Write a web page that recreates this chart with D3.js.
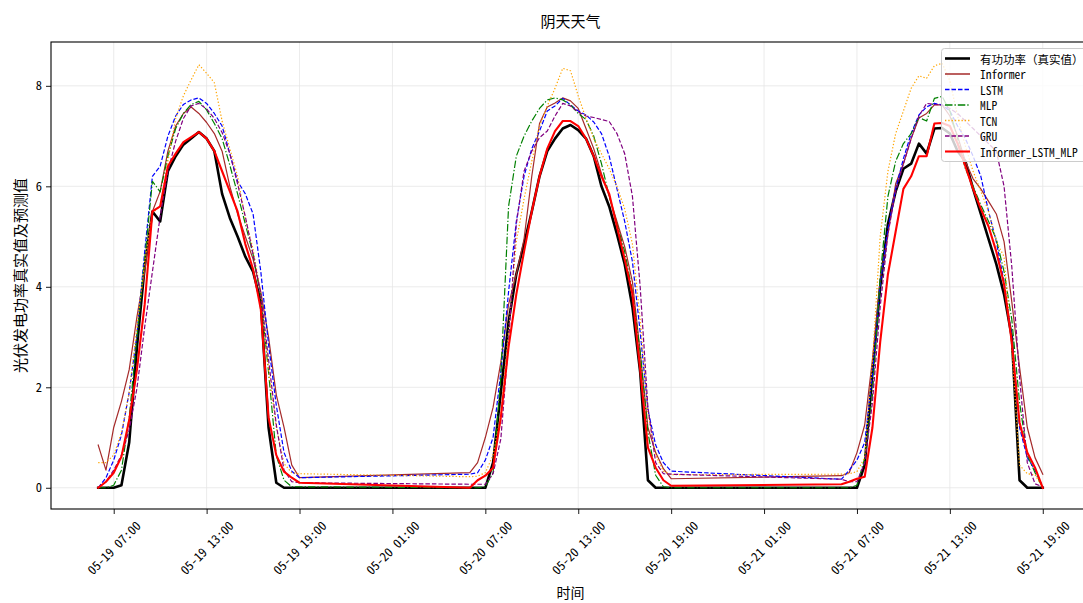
<!DOCTYPE html>
<html><head><meta charset="utf-8">
<script src="https://cdn.jsdelivr.net/npm/d3@7/dist/d3.min.js"></script>
<style>
html,body{margin:0;padding:0;background:#fff;}
svg{display:block;font-family:"Noto Sans Mono CJK SC","Noto Sans CJK SC",sans-serif;}
</style></head>
<body><svg id="chart" width="1083" height="603"></svg>
<script>
// ---------- data ----------
const days = ["2024-05-19", "2024-05-20", "2024-05-21"];
const slotStart = "06:00", slotMinutes = 30, slotsPerDay = 27; // 06:00 .. 19:00
const xTickLabels = ["2024-05-19 07:00","2024-05-19 13:00","2024-05-19 19:00","2024-05-20 01:00",
  "2024-05-20 07:00","2024-05-20 13:00","2024-05-20 19:00","2024-05-21 01:00",
  "2024-05-21 07:00","2024-05-21 13:00","2024-05-21 19:00"];
const yTicks = [0, 2, 4, 6, 8];
const seriesNames = ["有功功率（真实值）","Informer","LSTM","MLP","TCN","GRU","Informer_LSTM_MLP"];

const truth = [
 0,0,0,0.05,0.9,2.8,4.4,5.5,5.3,6.3,6.6,6.83,6.95,7.08,6.95,6.7,5.85,5.37,5.0,4.6,4.3,3.7,1.2,0.1,0,0,0,
 0,0,0,0.5,1.9,3.3,4.25,4.85,5.5,6.2,6.7,6.95,7.15,7.22,7.12,6.95,6.6,6.0,5.6,5.05,4.45,3.6,2.3,0.15,0,0,0,
 0,0,0,0.45,2.3,4.0,5.25,5.9,6.35,6.45,6.85,6.65,7.15,7.16,7.05,6.7,6.5,5.95,5.45,4.95,4.45,3.85,3.0,0.15,0,0,0];
const informer = [
 0.85,0.35,1.2,1.72,2.35,3.4,4.3,5.5,5.9,6.7,7.2,7.45,7.58,7.45,7.27,7.05,6.7,6.0,5.45,5.0,4.55,3.9,3.0,1.85,1.2,0.45,0.2,
 0.3,0.5,1.0,1.6,2.5,3.65,4.25,4.95,6.2,7.25,7.58,7.66,7.76,7.7,7.55,7.15,6.75,6.25,5.8,5.3,4.8,4.1,2.7,1.2,0.7,0.38,0.18,
 0.24,0.3,0.7,1.25,2.55,4.15,5.05,6.05,6.45,6.95,7.36,7.45,7.62,7.62,7.4,7.0,6.5,6.15,5.95,5.7,5.45,4.9,3.7,2.4,1.2,0.6,0.27];
const lstm = [
 0,0.2,0.55,1.05,1.9,3.05,4.7,6.2,6.4,7.0,7.4,7.63,7.72,7.76,7.65,7.45,7.2,6.65,6.1,5.85,5.45,4.3,2.85,1.64,0.7,0.33,0.2,
 0.27,0.3,0.55,1.0,2.3,3.9,5.3,6.2,6.75,7.1,7.5,7.6,7.75,7.62,7.5,7.42,7.28,7.05,6.6,5.95,5.3,4.5,3.1,1.55,0.85,0.5,0.33,
 0.17,0.35,0.55,0.9,2.25,4.05,5.15,5.95,6.55,7.05,7.42,7.58,7.65,7.62,7.5,7.2,6.95,6.6,6.2,5.5,4.9,4.1,3.0,1.2,0.6,0.35,0.02];
const mlp = [
 0,0,0.05,0.35,1.4,3.0,4.55,6.1,5.89,6.6,7.15,7.45,7.63,7.69,7.52,7.25,6.95,6.42,5.85,5.25,4.65,3.8,2.3,0.64,0.15,0.02,0.02,
 0,0,0.02,0.3,2.2,5.6,6.6,7.0,7.3,7.55,7.72,7.76,7.72,7.62,7.45,7.33,7.0,6.45,5.8,5.25,4.7,3.9,2.7,1.1,0.25,0.02,0,
 0,0,0.05,0.58,1.85,4.2,5.8,6.5,6.85,7.05,7.37,7.3,7.75,7.79,7.5,6.95,6.35,6.0,5.63,5.3,4.95,4.3,3.35,1.7,0.65,0.3,0];
const tcn = [
 0.5,0.5,0.65,1.1,1.9,3.2,4.5,5.47,5.6,6.5,7.35,7.8,8.12,8.42,8.25,8.06,7.3,6.75,6.2,5.35,4.75,3.85,2.35,1.2,0.48,0.3,0.28,
 0.22,0.23,0.3,0.65,1.45,3.1,4.9,5.75,6.5,7.2,7.6,7.95,8.35,8.3,7.8,7.35,6.95,6.65,6.35,6.0,5.55,4.85,3.35,1.5,0.65,0.33,0.26,
 0.27,0.28,0.32,0.6,2.5,5.0,6.3,7.05,7.5,7.95,8.2,8.15,8.4,8.45,8.1,7.4,6.8,6.3,5.9,5.5,4.9,4.6,2.8,0.45,0.28,0.26,0];
const gru = [
 0,0.12,0.35,0.65,1.15,1.98,3.2,4.3,5.4,6.3,6.9,7.35,7.6,7.65,7.54,7.35,7.07,6.65,6.05,5.4,4.65,3.85,2.55,1.25,0.35,0.12,0.1,
 0.07,0.07,0.07,0.28,0.97,2.9,5.25,6.3,6.7,6.97,7.1,7.4,7.65,7.6,7.48,7.4,7.37,7.33,7.29,7.05,6.65,5.8,4.0,1.6,0.5,0.28,0.27,
 0.17,0.12,0.12,0.5,1.7,3.6,5.05,5.9,6.45,6.95,7.4,7.65,7.63,7.62,7.55,7.45,7.3,7.15,7.0,6.85,6.7,6.0,4.4,2.2,0.5,0.08,0.02];
const hybrid = [
 0,0.12,0.3,0.62,1.35,2.35,3.65,5.5,5.6,6.4,6.65,6.88,6.98,7.08,6.95,6.7,6.3,5.9,5.5,4.85,4.35,3.55,1.4,0.65,0.32,0.2,0.1,
 0,0.15,0.24,0.4,1.4,2.8,3.85,4.7,5.5,6.2,6.75,7.1,7.3,7.3,7.2,6.95,6.6,6.2,5.85,5.2,4.55,3.85,2.35,0.8,0.4,0.15,0.04,
 0.07,0.12,0.18,0.22,1.2,2.9,4.25,5.1,5.95,6.2,6.6,6.6,7.25,7.26,7.2,6.85,6.4,5.95,5.55,5.2,4.7,4.05,2.9,1.3,0.7,0.4,0];

// ---------- build ----------
const parse = d3.timeParse("%Y-%m-%d %H:%M");
const times = days.flatMap(d => d3.range(slotsPerDay).map(i =>
  d3.timeMinute.offset(parse(d + " " + slotStart), i * slotMinutes)));
const xTicks = xTickLabels.map(parse);

const series = [
  {name: seriesNames[0], values: truth,    color: "#000000", width: 2.6, dash: null},
  {name: seriesNames[1], values: informer, color: "#a52a2a", width: 1.2, dash: null},
  {name: seriesNames[2], values: lstm,     color: "#0000ff", width: 1.2, dash: "4.5,2"},
  {name: seriesNames[3], values: mlp,      color: "#008000", width: 1.2, dash: "7.5,2,1.3,2"},
  {name: seriesNames[4], values: tcn,      color: "#ffa500", width: 1.2, dash: "1.3,2"},
  {name: seriesNames[5], values: gru,      color: "#800080", width: 1.2, dash: "4.5,2"},
  {name: seriesNames[6], values: hybrid,   color: "#ff0000", width: 2.1, dash: null}
];

const svg = d3.select("#chart");
const L = 51, R = 1090, T = 42, B = 509;

const [t0, t1] = d3.extent(times);
const tpad = (t1 - t0) * 0.05;
const x = d3.scaleTime().domain([new Date(+t0 - tpad), new Date(+t1 + tpad)]).range([L, R]);
const ymax = d3.max(series, s => d3.max(s.values)), ymin = d3.min(series, s => d3.min(s.values));
const ypad = (ymax - ymin) * 0.05;
const y = d3.scaleLinear().domain([ymin - ypad, ymax + ypad]).range([B, T]);

// grid
const grid = svg.append("g");
grid.selectAll(".gx").data(xTicks).join("line")
  .attr("x1", d => x(d)).attr("x2", d => x(d)).attr("y1", T).attr("y2", B)
  .attr("stroke", "#e6e6e6").attr("stroke-width", 0.8);
grid.selectAll(".gy").data(yTicks).join("line")
  .attr("x1", L).attr("x2", R).attr("y1", d => y(d)).attr("y2", d => y(d))
  .attr("stroke", "#e6e6e6").attr("stroke-width", 0.8);

// lines
svg.append("clipPath").attr("id", "clip").append("rect")
  .attr("x", L).attr("y", T).attr("width", R - L).attr("height", B - T);
const line = d3.line().x((d, i) => x(times[i])).y(d => y(d));
const lg = svg.append("g").attr("clip-path", "url(#clip)");
series.forEach(s => {
  lg.append("path").datum(s.values).attr("d", line)
    .attr("fill", "none").attr("stroke", s.color).attr("stroke-width", s.width)
    .attr("stroke-linejoin", "round").attr("stroke-linecap", s.dash ? "butt" : "square")
    .attr("stroke-dasharray", s.dash);
});

// axes
const xAxis = svg.append("g").attr("transform", `translate(0,${B})`)
  .call(d3.axisBottom(x).tickValues(xTicks).tickFormat(d3.timeFormat("%m-%d %H:%M")).tickSize(5));
xAxis.select(".domain").remove();
xAxis.selectAll("text").attr("y", 0).attr("dy", "0.35em")
  .attr("transform", "translate(0,39) rotate(-45)").style("text-anchor", "middle")
  .attr("font-size", 12.5).attr("fill", "#000");
const yAxis = svg.append("g").attr("transform", `translate(${L},0)`)
  .call(d3.axisLeft(y).tickValues(yTicks).tickSize(5).tickPadding(4));
yAxis.select(".domain").remove();
yAxis.selectAll("text").attr("font-size", 12.5).attr("fill", "#000");
svg.selectAll(".tick line").attr("stroke", "#000").attr("stroke-width", 0.9);
[xAxis, yAxis].forEach(a => a.attr("font-family", null).attr("font-size", null));

// frame
svg.append("rect").attr("x", L).attr("y", T).attr("width", R - L).attr("height", B - T)
  .attr("fill", "none").attr("stroke", "#000").attr("stroke-width", 1.1);

// texts
svg.append("text").attr("x", (L + R) / 2).attr("y", 20).attr("text-anchor", "middle")
  .attr("dominant-baseline", "central").attr("font-size", 15).text("阴天天气");
svg.append("text").attr("transform", `translate(19,${(T + B) / 2}) rotate(-90)`)
  .attr("text-anchor", "middle").attr("dominant-baseline", "central").attr("font-size", 15)
  .text("光伏发电功率真实值及预测值");
svg.append("text").attr("x", (L + R) / 2).attr("y", 592).attr("text-anchor", "middle")
  .attr("dominant-baseline", "central").attr("font-size", 14).text("时间");

// legend
const leg = svg.append("g");
leg.append("rect").attr("x", 941.5).attr("y", 48.5).attr("width", 150).attr("height", 113)
  .attr("rx", 3).attr("fill", "#fff").attr("fill-opacity", 0.8).attr("stroke", "#cccccc");
series.forEach((s, i) => {
  const yy = 58.5 + i * 15.5;
  leg.append("line").attr("x1", 945).attr("x2", 970).attr("y1", yy).attr("y2", yy)
    .attr("stroke", s.color).attr("stroke-width", Math.max(s.width, 1.5)).attr("stroke-dasharray", s.dash);
  leg.append("text").attr("x", 980).attr("y", yy).attr("dominant-baseline", "central")
    .attr("font-size", 11.5).text(s.name);
});
</script></body></html>
